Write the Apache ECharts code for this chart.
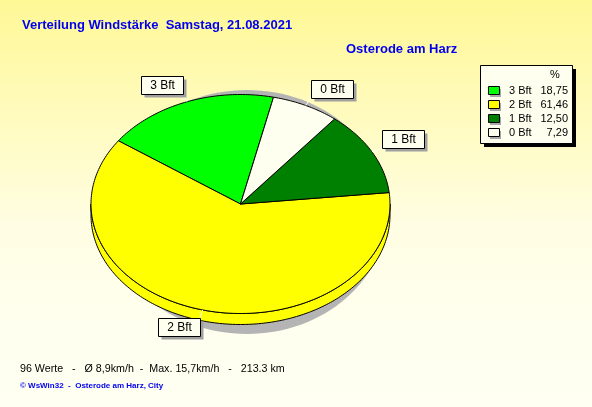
<!DOCTYPE html>
<html><head><meta charset="utf-8">
<script src="https://cdn.jsdelivr.net/npm/echarts@6/dist/echarts.min.js"></script>
<style>
html,body{margin:0;padding:0;}
#c{width:592px;height:407px;background:linear-gradient(to bottom,#FFF896 0%,#FFFBC0 30%,#FFFDE2 55%,#FFFFEF 80%,#FFFFF2 100%);}
</style>
</head><body><div id="c"></div>
<script>
const titleText = 'Verteilung Windstärke  Samstag, 21.08.2021';
const stationText = 'Osterode am Harz';
const categories = ['3 Bft', '2 Bft', '1 Bft', '0 Bft'];
const percent = [18.75, 61.46, 12.50, 7.29];
const legendValues = ['18,75', '61,46', '12,50', '7,29'];
const sliceColors = ['#00FF00', '#FFFF00', '#008000', '#FFFFF0'];
const drawOrder = [2, 3, 0, 1];
const footerText = '96 Werte   -   Ø 8,9km/h  -  Max. 15,7km/h   -   213.3 km';
const copyrightText = '© WsWin32  -  Osterode am Harz, City';

const CX = 240.5, CY = 204, RX = 149.5, RY = 109.5, DEPTH = 11, START = 6;
const FONT = 'Arial, "Liberation Sans", sans-serif';

function computeAngles(vals) {
  const total = vals.reduce((a, b) => a + b, 0);
  const res = {};
  let a = START;
  drawOrder.forEach(i => { const span = vals[i] / total * 360; res[i] = [a, a + span]; a += span; });
  return res;
}
function pt(deg, dy, s) {
  dy = dy || 0; s = s || 1;
  const r = deg * Math.PI / 180;
  return [CX + RX * s * Math.cos(r), CY + dy - RY * s * Math.sin(r)];
}
function arc(a0, a1, dy) {
  const pts = [];
  const n = Math.max(2, Math.ceil(Math.abs(a1 - a0)));
  for (let k = 0; k <= n; k++) pts.push(pt(a0 + (a1 - a0) * k / n, dy));
  return pts;
}
const seriesData = categories.map((c, i) => ({ name: c, value: percent[i] }));

const chart = echarts.init(document.getElementById('c'), null, { renderer: 'canvas' });

const legendEls = [];
const LX = 480, LY = 65, LW = 92, LH = 78;
legendEls.push({ type: 'rect', z: 10, shape: { x: LX + 4, y: LY + 4, width: LW, height: LH }, style: { fill: '#000' } });
legendEls.push({ type: 'rect', z: 11, shape: { x: LX + 0.5, y: LY + 0.5, width: LW, height: LH }, style: { fill: '#FFFFF0', stroke: '#000', lineWidth: 1 } });
legendEls.push({ type: 'text', z: 12, x: 555, y: 75, style: { text: '%', font: '11px ' + FONT, fill: '#000', align: 'center', verticalAlign: 'middle' } });
categories.forEach((c, i) => {
  const y = 91 + 14 * i;
  legendEls.push({ type: 'rect', z: 12, shape: { x: 490, y: y - 2, width: 11, height: 8 }, style: { fill: '#A8A8A8' } });
  legendEls.push({ type: 'rect', z: 13, shape: { x: 488.5, y: y - 4.5, width: 11, height: 8 }, style: { fill: sliceColors[i], stroke: '#000', lineWidth: 1 } });
  legendEls.push({ type: 'text', z: 13, x: 509, y: y, style: { text: c, font: '11px ' + FONT, fill: '#000', align: 'left', verticalAlign: 'middle' } });
  legendEls.push({ type: 'text', z: 13, x: 568, y: y, style: { text: legendValues[i], font: '11px ' + FONT, fill: '#000', align: 'right', verticalAlign: 'middle' } });
});

const textEls = [
  { type: 'text', z: 10, x: 22, y: 25, style: { text: titleText, font: 'bold 13px ' + FONT, fill: '#0000F0', verticalAlign: 'middle' } },
  { type: 'text', z: 10, x: 346, y: 49, style: { text: stationText, font: 'bold 13px ' + FONT, fill: '#0000F0', verticalAlign: 'middle' } },
  { type: 'text', z: 10, x: 20, y: 369, style: { text: footerText, font: '10.7px ' + FONT, fill: '#000', verticalAlign: 'middle' } },
  { type: 'text', z: 10, x: 20, y: 386, style: { text: copyrightText, font: 'bold 8px ' + FONT, fill: '#0000F0', verticalAlign: 'middle' } }
];

const shadowEl = { type: 'ellipse', z: 0, shape: { cx: 247, cy: 212, rx: 140, ry: 122 }, style: { fill: '#B4B4B4' } };

chart.setOption({
  animation: false,
  backgroundColor: 'transparent',
  graphic: [shadowEl].concat(legendEls, textEls),
  series: [
    {
      type: 'custom', coordinateSystem: 'none', z: 2, data: seriesData,
      renderItem: function (params, api) {
        const ang = computeAngles(percent);
        const i = params.dataIndex;
        const [a0, a1] = ang[i];
        const s = Math.max(a0, 180), e = Math.min(a1, 360);
        if (e <= s) return { type: 'group', children: [] };
        const pts = arc(s, e, 0).concat(arc(e, s, DEPTH));
        return { type: 'polygon', shape: { points: pts }, style: { fill: sliceColors[i], stroke: '#000', lineWidth: 1 } };
      }
    },
    {
      type: 'custom', coordinateSystem: 'none', z: 3, data: seriesData,
      renderItem: function (params, api) {
        const ang = computeAngles(percent);
        const i = params.dataIndex;
        const [a0, a1] = ang[i];
        const pts = [[CX, CY]].concat(arc(a0, a1, 0));
        return { type: 'polygon', shape: { points: pts }, style: { fill: sliceColors[i], stroke: '#000', lineWidth: 1 } };
      }
    },
    {
      type: 'custom', coordinateSystem: 'none', z: 4, data: seriesData,
      renderItem: function (params, api) {
        const ang = computeAngles(percent);
        const i = params.dataIndex;
        const [a0, a1] = ang[i];
        const m = (a0 + a1) / 2;
        const edge = pt(m, 0, 1);
        const corner = pt(m, 0, 1.08);
        const r = m * Math.PI / 180;
        const W = 42, H = 18;
        const bx = Math.cos(r) >= 0 ? corner[0] : corner[0] - W;
        const by = Math.sin(r) >= 0 ? corner[1] - H : corner[1];
        const rx = Math.round(bx) + 0.5, ry = Math.round(by) + 0.5;
        return {
          type: 'group', children: [
            { type: 'line', shape: { x1: edge[0], y1: edge[1], x2: corner[0], y2: corner[1] }, style: { stroke: '#FFFFFF', lineWidth: 1 } },
            { type: 'rect', shape: { x: rx + 3, y: ry + 3, width: W, height: H }, style: { fill: '#A0A0A0' } },
            { type: 'rect', shape: { x: rx, y: ry, width: W, height: H }, style: { fill: '#FFFFF0', stroke: '#000', lineWidth: 1 } },
            { type: 'text', x: rx + W / 2, y: ry + H / 2 + 0.5, style: { text: categories[i], font: '12px ' + FONT, fill: '#000', align: 'center', verticalAlign: 'middle' } }
          ]
        };
      }
    }
  ]
});
</script>
</body></html>
